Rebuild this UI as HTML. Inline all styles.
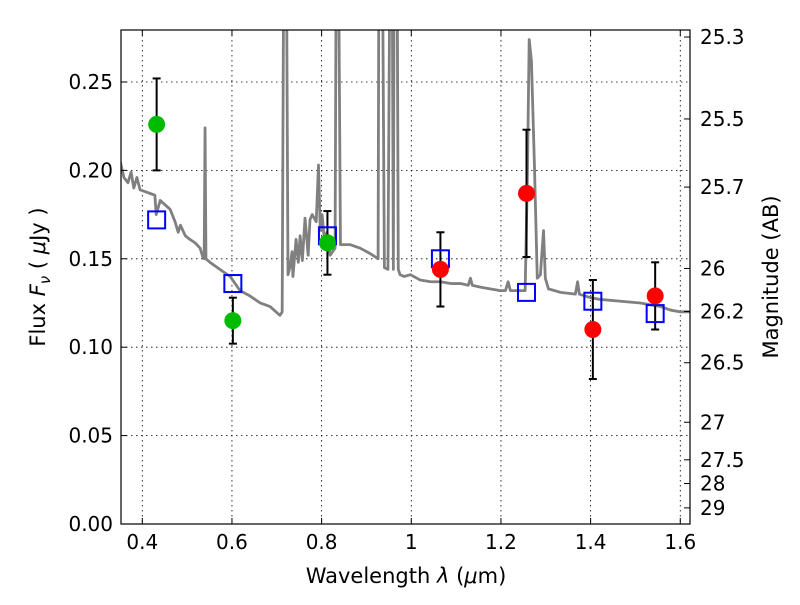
<!DOCTYPE html>
<html><head><meta charset="utf-8"><style>
body{margin:0;background:#fff;}
svg{font-family:"DejaVu Sans","Liberation Sans",sans-serif;}
</style></head><body>
<svg id="chart" width="800" height="600" xmlns="http://www.w3.org/2000/svg">
<defs><clipPath id="clip"><rect x="121" y="30" width="569" height="494"/></clipPath></defs>
<rect width="800" height="600" fill="#fff"/>
<g id="grid"></g>
<g id="spec" clip-path="url(#clip)"></g>
<g id="marks"></g>
<rect x="121" y="30" width="569" height="494" fill="none" stroke="#000" stroke-width="1.2"/>
<g id="axes"></g>
<text x="406" y="583" font-size="21" text-anchor="middle">Wavelength  <tspan font-style="italic">λ</tspan> (<tspan font-style="italic">μ</tspan>m)</text>
<text transform="translate(45,277) rotate(-90)" font-size="21" text-anchor="middle">Flux  <tspan font-style="italic">F</tspan><tspan font-style="italic" font-size="15" dy="5">ν</tspan><tspan dy="-5">  ( </tspan><tspan font-style="italic">μ</tspan>Jy )</text>
<text transform="translate(778,277) rotate(-90)" font-size="21" text-anchor="middle">Magnitude (AB)</text>
</svg>
<script>
const xTicks=[0.4,0.6,0.8,1.0,1.2,1.4,1.6];
const xTickLabels=["0.4","0.6","0.8","1","1.2","1.4","1.6"];
const yTicks=[0,0.05,0.10,0.15,0.20,0.25];
const yTickLabels=["0.00","0.05","0.10","0.15","0.20","0.25"];
const magTicks=[25.3,25.5,25.7,26,26.2,26.5,27,27.5,28,29];
const magTickLabels=["25.3","25.5","25.7","26","26.2","26.5","27","27.5","28","29"];
const greenWave=[0.432,0.602,0.813];
const greenFlux=[0.226,0.115,0.159];
const greenErr=[0.026,0.013,0.018];
const redWave=[1.065,1.257,1.405,1.544];
const redFlux=[0.144,0.187,0.110,0.129];
const redErr=[0.021,0.036,0.028,0.019];
const modelWave=[0.432,0.602,0.813,1.065,1.257,1.405,1.544];
const modelFlux=[0.172,0.136,0.163,0.150,0.131,0.126,0.119];
const specWave=[0.350,0.359,0.368,0.375,0.381,0.388,0.395,0.406,0.417,0.428,0.431,0.440,0.462,0.473,0.480,0.485,0.496,0.506,0.518,0.529,0.535,0.538,0.540,0.542,0.551,0.573,0.596,0.618,0.640,0.663,0.685,0.707,0.712,0.716,0.721,0.725,0.730,0.734,0.736,0.743,0.748,0.752,0.757,0.763,0.770,0.774,0.779,0.788,0.793,0.797,0.801,0.806,0.812,0.819,0.830,0.833,0.837,0.842,0.864,0.886,0.908,0.926,0.928,0.935,0.940,0.948,0.953,0.957,0.960,0.962,0.968,0.971,0.975,0.984,0.998,1.020,1.043,1.065,1.088,1.110,1.127,1.132,1.136,1.154,1.176,1.198,1.210,1.216,1.221,1.243,1.254,1.259,1.263,1.268,1.275,1.281,1.288,1.295,1.299,1.306,1.333,1.366,1.371,1.375,1.400,1.422,1.467,1.511,1.556,1.578,1.600,1.627];
const specFlux=[0.206,0.196,0.193,0.199,0.190,0.196,0.189,0.188,0.187,0.186,0.175,0.183,0.178,0.171,0.165,0.169,0.163,0.161,0.159,0.156,0.151,0.150,0.224,0.150,0.148,0.144,0.140,0.132,0.129,0.125,0.123,0.118,0.120,0.35,0.35,0.141,0.146,0.154,0.140,0.161,0.148,0.163,0.149,0.173,0.152,0.172,0.175,0.171,0.203,0.166,0.175,0.161,0.165,0.152,0.156,0.35,0.35,0.158,0.158,0.156,0.153,0.150,0.35,0.35,0.145,0.144,0.35,0.35,0.144,0.35,0.35,0.144,0.141,0.140,0.141,0.138,0.137,0.137,0.136,0.136,0.135,0.139,0.135,0.134,0.133,0.132,0.132,0.137,0.132,0.132,0.132,0.197,0.274,0.262,0.200,0.139,0.141,0.166,0.139,0.133,0.131,0.130,0.137,0.130,0.128,0.127,0.126,0.125,0.123,0.121,0.120,0.120];

const NS="http://www.w3.org/2000/svg";
const X0=121,X1=690,Y0=30,Y1=524,XMIN=0.3525,XMAX=1.6217,YMIN=0,YMAX=0.2794;
const sx=v=>X0+(v-XMIN)/(XMAX-XMIN)*(X1-X0);
const sy=v=>Y1-(v-YMIN)/(YMAX-YMIN)*(Y1-Y0);
const magToFlux=m=>Math.pow(10,(23.9-m)/2.5);
function mk(tag,attrs,parent){const e=document.createElementNS(NS,tag);for(const k in attrs)e.setAttribute(k,attrs[k]);parent.appendChild(e);return e;}
const grid=document.getElementById('grid'),axes=document.getElementById('axes'),spec=document.getElementById('spec'),marks=document.getElementById('marks');

xTicks.forEach((t,i)=>{const x=sx(t);
 const g=mk('line',{x1:x,x2:x,y1:Y0,y2:Y1,stroke:'#000','stroke-width':0.8,'stroke-dasharray':'1.5,3.5'},grid);
 
 
 mk('line',{x1:x,x2:x,y1:Y1,y2:Y1-6,stroke:'#000'},axes);
 mk('line',{x1:x,x2:x,y1:Y0,y2:Y0+6,stroke:'#000'},axes);
 const tx=mk('text',{x:x,y:Y1+25,'font-size':20,'text-anchor':'middle'},axes);tx.textContent=xTickLabels[i];
 
 
});
yTicks.forEach((t,i)=>{const y=sy(t);
 if(t>0){const g=mk('line',{x1:X0,x2:X1,y1:y,y2:y,stroke:'#000','stroke-width':0.8,'stroke-dasharray':'1.5,3.5'},grid);
 
 }
 mk('line',{x1:X0,x2:X0+6,y1:y,y2:y,stroke:'#000'},axes);
 const tx=mk('text',{x:X0-8,y:y+7,'font-size':20,'text-anchor':'end'},axes);tx.textContent=yTickLabels[i];
 
 
});
magTicks.forEach((m,i)=>{const y=sy(magToFlux(m));
 mk('line',{x1:X1,x2:X1-6,y1:y,y2:y,stroke:'#000'},axes);
 const tx=mk('text',{x:X1+10,y:y+7,'font-size':20},axes);tx.textContent=magTickLabels[i];
 
 
});
const pl=mk('polyline',{points:specWave.map((w,i)=>sx(w)+','+sy(specFlux[i])).join(' '),fill:'none',stroke:'#808080','stroke-width':2.8,'stroke-linejoin':'round'},spec);



function errbar(w,f,e){const x=sx(w),a=sy(f+e),b=sy(f-e);
 const g=mk('g',{stroke:'#000','stroke-width':2},marks);
 
 
 mk('line',{x1:x,x2:x,y1:a,y2:b},g);mk('line',{x1:x-4,x2:x+4,y1:a,y2:a},g);mk('line',{x1:x-4,x2:x+4,y1:b,y2:b},g);}
greenWave.forEach((w,i)=>errbar(w,greenFlux[i],greenErr[i]));
redWave.forEach((w,i)=>errbar(w,redFlux[i],redErr[i]));
modelWave.forEach((w,i)=>{const r=mk('rect',{x:sx(w)-8.5,y:sy(modelFlux[i])-8.5,width:17,height:17,fill:'none',stroke:'#0000ff','stroke-width':2},marks);
 
 });
greenWave.forEach((w,i)=>{const c=mk('circle',{cx:sx(w),cy:sy(greenFlux[i]),r:8.5,fill:'#00bb00'},marks);
 
 });
redWave.forEach((w,i)=>{const c=mk('circle',{cx:sx(w),cy:sy(redFlux[i]),r:8.5,fill:'#ff0000'},marks);
 
 });
</script>
</body></html>
